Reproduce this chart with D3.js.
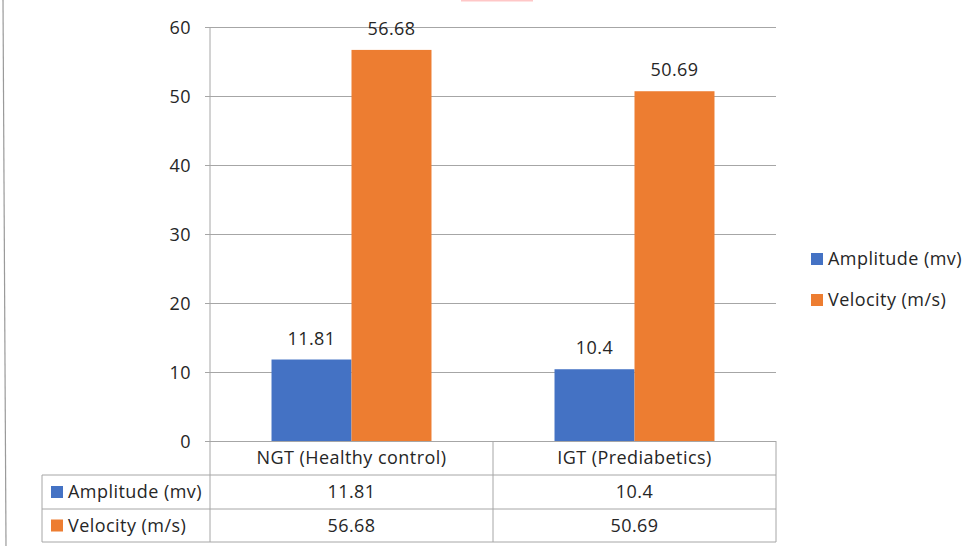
<!DOCTYPE html>
<html>
<head>
<meta charset="utf-8">
<script src="https://cdn.jsdelivr.net/npm/d3@7"></script>
<style>
  html, body { margin: 0; padding: 0; background: #fff; }
  svg { display: block; }
  text { font-family: "Open Sans", Lato, sans-serif; fill: #262626; letter-spacing: 0.45px; }
</style>
</head>
<body>
<svg id="chart" width="979" height="546"></svg>
<script>
// Chart data
const categories = ["NGT (Healthy control)", "IGT (Prediabetics)"];
const seriesNames = ["Amplitude (mv)", "Velocity (m/s)"];
const amplitude = [11.81, 10.4];
const velocity = [56.68, 50.69];
const yTicks = [0, 10, 20, 30, 40, 50, 60];
const seriesColors = ["#4472C4", "#ED7D31"];

const seriesValues = [amplitude, velocity];

const svg = d3.select("#chart");
const W = 979, H = 546;
const plot = { left: 210, right: 776, top: 27, bottom: 441 };
const table = { left: 42, rowH: [34, 34, 33] };
const fs = 18;
const lineColor = "#A6A6A6";

// Frame edge on the left and a small mark at the top
svg.append("line").attr("x1", 3).attr("x2", 6).attr("y1", 0).attr("y2", H)
  .attr("stroke", "#9a9a9a").attr("stroke-width", 1.2);
svg.append("rect").attr("x", 461).attr("y", 0).attr("width", 72).attr("height", 1.5)
  .attr("fill", "#FFC7C7");

const x = d3.scaleBand().domain(categories).range([plot.left, plot.right]).padding(0);
const xs = d3.scaleBand().domain(seriesNames).range([0, x.bandwidth()])
  .paddingInner(0).paddingOuter(0.769);
const y = d3.scaleLinear().domain([0, 60]).range([plot.bottom, plot.top]);

// Gridlines with small outward ticks
const yAxis = d3.axisLeft(y).tickValues(yTicks)
  .tickSize(-(plot.right - plot.left + 5)).tickPadding(14).tickFormat(d3.format("d"));
const gy = svg.append("g").attr("transform", `translate(${plot.left - 5},0)`).call(yAxis);
gy.select(".domain").remove();
gy.selectAll(".tick line").attr("stroke", lineColor).attr("stroke-width", 1)
  .attr("x1", 0).attr("x2", plot.right - plot.left + 5);
gy.selectAll(".tick text").attr("font-size", fs).attr("fill", "#262626")
  .attr("x", -14).attr("dy", "0.34em");

// Bars
const groups = svg.append("g").selectAll("g").data(categories).join("g")
  .attr("transform", d => `translate(${x(d)},0)`);
seriesNames.forEach((s, si) => {
  groups.append("rect")
    .attr("x", xs(s))
    .attr("width", xs.bandwidth())
    .attr("y", (d, ci) => y(seriesValues[si][ci]))
    .attr("height", (d, ci) => y(0) - y(seriesValues[si][ci]))
    .attr("fill", seriesColors[si]);
  groups.append("text")
    .attr("x", xs(s) + xs.bandwidth() / 2)
    .attr("y", (d, ci) => y(seriesValues[si][ci]) - 15)
    .attr("text-anchor", "middle")
    .attr("font-size", fs)
    .text((d, ci) => seriesValues[si][ci]);
});

// Vertical axis line running down through the data table
const rowY = [plot.bottom];
table.rowH.forEach(h => rowY.push(rowY[rowY.length - 1] + h));
svg.append("line").attr("x1", plot.left).attr("x2", plot.left)
  .attr("y1", plot.top).attr("y2", rowY[3]).attr("stroke", lineColor);

// Data table
const tg = svg.append("g");
// horizontal rules
[1, 2, 3].forEach(i => {
  tg.append("line").attr("x1", table.left).attr("x2", plot.right)
    .attr("y1", rowY[i]).attr("y2", rowY[i]).attr("stroke", lineColor);
});
// vertical rules
tg.append("line").attr("x1", table.left).attr("x2", table.left)
  .attr("y1", rowY[1]).attr("y2", rowY[3]).attr("stroke", lineColor);
categories.forEach(c => {
  tg.append("line").attr("x1", x(c) + x.bandwidth()).attr("x2", x(c) + x.bandwidth())
    .attr("y1", rowY[0]).attr("y2", rowY[3]).attr("stroke", lineColor);
});
// category header row
categories.forEach(c => {
  tg.append("text").attr("x", x(c) + x.bandwidth() / 2)
    .attr("y", (rowY[0] + rowY[1]) / 2).attr("dy", "0.35em")
    .attr("text-anchor", "middle").attr("font-size", fs).text(c);
});
// series rows
seriesNames.forEach((s, si) => {
  const cy = (rowY[si + 1] + rowY[si + 2]) / 2;
  tg.append("rect").attr("x", 51).attr("y", cy - 6).attr("width", 12).attr("height", 12)
    .attr("fill", seriesColors[si]);
  tg.append("text").attr("x", 68).attr("y", cy).attr("dy", "0.35em")
    .attr("font-size", fs).text(s);
  categories.forEach((c, ci) => {
    tg.append("text").attr("x", x(c) + x.bandwidth() / 2).attr("y", cy).attr("dy", "0.35em")
      .attr("text-anchor", "middle").attr("font-size", fs).text(seriesValues[si][ci]);
  });
});

// Legend
const lg = svg.append("g").attr("transform", "translate(811,259)");
seriesNames.forEach((s, si) => {
  const row = lg.append("g").attr("transform", `translate(0,${si * 41})`);
  row.append("rect").attr("x", 0).attr("y", -6).attr("width", 12).attr("height", 12)
    .attr("fill", seriesColors[si]);
  row.append("text").attr("x", 17).attr("y", 0).attr("dy", "0.35em")
    .attr("font-size", fs).text(s);
});
</script>
</body>
</html>
